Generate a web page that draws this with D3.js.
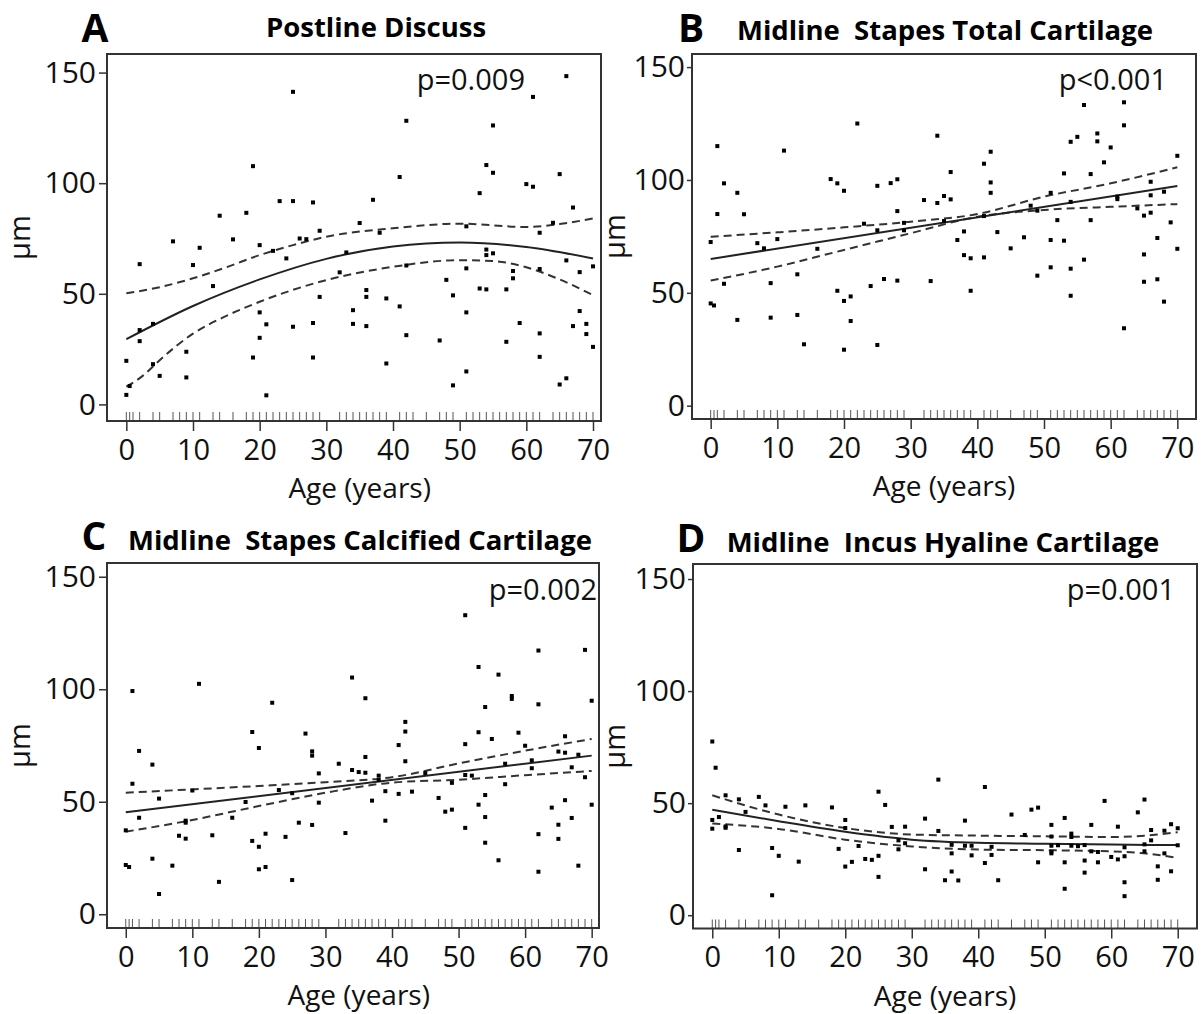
<!DOCTYPE html>
<html>
<head>
<meta charset="utf-8">
<script src="https://cdn.jsdelivr.net/npm/d3@7"></script>
<style>
  body { margin: 0; background: #fff; }
  svg { display: block; }
</style>
</head>
<body>
<div id="chart"></div>
<script>
// ---- data ----
const xTicks = [0, 10, 20, 30, 40, 50, 60, 70];
const yTicks = [0, 50, 100, 150];

// ages present in the sample (rug along the x axis)
const rugAges = [0, 0.5, 1, 2, 4, 5, 7, 8, 9, 10, 11, 13, 14, 16, 18, 19, 20, 21, 22, 23, 24, 25, 26, 27, 28, 29,
  32, 33, 34, 35, 36, 37, 38, 39, 41, 42, 43, 45, 47, 48, 49, 51, 52, 53, 54, 55, 56, 57, 58, 59, 60, 61, 62,
  64, 65, 66, 67, 68, 69, 70];

// A  Postline Discuss
const ageA = [25, 19, 23, 25, 28, 14, 18, 7, 16, 11, 20, 26, 27, 29, 22, 24, 2, 10, 13, 32, 33, 29, 20, 21, 25, 28,
  20, 19, 28, 21, 4, 2, 2, 0, 4, 9, 5, 9, 0.5, 0,
  66, 61, 42, 55, 54, 55, 41, 60, 61, 65, 53, 37, 67, 35, 38, 51, 62, 64, 54, 54, 55, 66, 70, 68, 51, 62, 42, 48,
  58, 58, 36, 36, 53, 54, 57, 49, 39, 34, 41, 51, 68, 34, 36, 42, 47, 59, 67, 69, 69, 70, 62, 57, 62, 39, 51, 49, 65, 66];
const umA = [141.3, 107.7, 91.9, 91.9, 91.3, 85.3, 86.6, 73.7, 74.6, 70.8, 72, 75, 74.7, 78.5, 69.4, 66, 63.4, 63, 53.5, 59.7, 68.7, 48.6, 41.6, 36.2, 35.1, 36.8,
  30.1, 21.2, 21.2, 4.1, 36.4, 33.6, 28.6, 19.7, 18.2, 23.8, 12.9, 12.2, 8.3, 4.3,
  148.4, 139, 128.2, 126.1, 108.2, 104.7, 102.8, 99.6, 98.4, 104.1, 95.5, 92.5, 89, 82, 77.6, 80.5, 77.6, 82.1, 70, 67.5, 68.3, 65.1, 62.4, 59.8, 61.5, 61.2, 62.8, 56.3,
  60.3, 57, 51.7, 48.6, 52.4, 52, 52, 49.3, 47.9, 42.6, 44.3, 41.6, 42.2, 36.4, 35.4, 31.3, 28.9, 36.8, 35.4, 36.4, 31.8, 26, 32.1, 28.3, 21.5, 18.5, 14.9, 8.6, 9, 11.8];
const fitAgeA = [0, 10, 20, 30, 40, 50, 60, 70];
const fitA = [29.5, 44.5, 56.5, 65.8, 71.4, 73.2, 71.2, 66];
const hiAgeA = [0, 5, 10, 15, 20, 25, 30, 40, 50, 60, 65, 70];
const hiA = [50.2, 53, 57, 62, 67.5, 72, 75.8, 79.6, 81.7, 80.2, 81.5, 84.1];
const loAgeA = [0, 2.5, 5, 10, 15, 20, 30, 40, 50, 55, 60, 65, 70];
const loA = [8, 13, 20, 32, 40, 46.4, 56.2, 62.2, 65.2, 64.8, 62, 56.5, 49.4];

// B  Midline Stapes Total Cartilage
const ageB = [1, 22, 11, 34, 2, 4, 18, 19, 20, 25, 27, 28, 36, 1, 5, 32, 34, 35, 36, 28, 23, 25, 29, 29, 35, 0, 7, 8, 10, 16,
  2, 9, 13, 26, 28, 33, 24, 19, 20, 21, 21, 0, 0.5, 4, 9, 13, 14, 20, 25,
  56, 62, 62, 54, 55, 58, 58, 60, 42, 41, 59, 70, 42, 42, 53, 57, 66, 51, 66, 68, 61, 61, 48, 49, 54, 64, 65, 66, 41, 52,
  57, 69, 38, 43, 37, 47, 51, 53, 67, 70, 38, 39, 41, 45, 65, 56, 51, 54, 49, 65, 67, 39, 54, 68, 62];
const umB = [115, 125, 113, 119.6, 98.5, 94.3, 100.4, 98.5, 95.2, 97.4, 98.6, 100.3, 103.5, 84.9, 84.8, 91.1, 89.8, 92.9, 91.4, 86.2, 80.6, 77.7, 81, 77.7, 81.8, 72.5, 72, 69.7, 73.8, 69.5,
  54, 54.3, 58.2, 56.1, 55.4, 55.2, 53, 50.9, 46.4, 48.4, 37.5, 45.3, 44.4, 38, 39, 40.2, 27.2, 24.8, 26.9,
  133.2, 134.4, 124.2, 116.9, 119.1, 120.6, 117.1, 114.4, 112.5, 107.2, 107.8, 110.7, 98.9, 94.3, 102.9, 102.6, 99.2, 94.3, 93.2, 94.8, 92.6, 91.5, 88.6, 86.4, 90.3, 87.4, 84.2, 85.5, 84, 82.2,
  82.2, 81.2, 77.2, 76.9, 73.4, 74.6, 73.4, 73.1, 74.3, 69.5, 66.7, 65.3, 65.7, 69.7, 67, 64.7, 61.3, 60.7, 57.6, 54.9, 56, 50.9, 48.7, 46.1, 34.3];
const fitAgeB = [0, 70];
const fitB = [65, 97.3];
const bandAgeB = [0, 10, 20, 30, 40, 50, 60, 70];
const hiB = [74.8, 76.8, 79, 81.5, 84.9, 92.6, 98.5, 105.6];
const loB = [55.4, 61.6, 69, 76.4, 83.7, 86.7, 88.1, 89.3];

// C  Midline Stapes Calcified Cartilage
const ageC = [1, 11, 22, 19, 27, 20, 28, 28, 2, 4, 32, 29, 1, 10, 23, 25, 5, 18, 29, 2, 9, 9, 16, 26, 28, 0, 8, 9, 13,
  19, 20, 21, 24, 33, 0, 0.5, 4, 7, 20, 21, 14, 25, 5,
  51, 62, 69, 53, 56, 34, 36, 58, 58, 62, 70, 54, 42, 42, 53, 59, 55, 41, 51, 60, 66, 65, 66, 68, 36, 42, 34, 35, 36, 38,
  38, 57, 61, 61, 67, 69, 51, 52, 45, 49, 57, 39, 41, 43, 37, 47, 53, 54, 66, 70, 64, 48, 49, 54, 67, 39, 51, 62, 65, 65,
  54, 56, 62, 68];
const umC = [99.2, 102.4, 94, 81, 80.3, 73.9, 72.4, 70.5, 72.6, 66.5, 66.9, 62.6, 58, 55, 55.2, 53.8, 51.4, 49.9, 49.6, 42.9, 41.6, 40.7, 42.9, 40.7, 39.7, 37.3, 34.9, 33.6, 35.1,
  32.6, 30, 35.8, 34.4, 36.1, 21.9, 21, 24.7, 21.6, 20, 21, 14.4, 15.2, 9,
  132.9, 117.2, 117.5, 109.9, 106.5, 105.2, 96, 97, 95.7, 93.3, 94.9, 92.1, 85.5, 81.2, 80.9, 80.7, 77.9, 75.2, 75.6, 74.9, 79.1, 72.3, 71.8, 70.9, 69.9, 68, 64.1, 63.2, 62.9, 61.6,
  59.7, 66.9, 68.4, 64.9, 65.3, 60.9, 61.9, 61.6, 62.7, 58.4, 57.8, 54.7, 53.5, 54.5, 50.5, 51.7, 48.7, 53, 50.7, 48.7, 47.4, 45.6, 46.5, 43.2, 42.8, 41.6, 38.4, 35.6, 39.8, 33.5,
  31.8, 24, 18.9, 21.6];
const fitAgeC = [0, 70];
const fitC = [45.3, 70.5];
const bandAgeC = [0, 10, 20, 30, 40, 50, 60, 70];
const hiC = [54, 55.5, 57, 58.7, 60.9, 67, 72.7, 77.9];
const loC = [36.7, 41.9, 48.1, 54, 58.5, 59.8, 61.8, 63.7];

// D  Midline Incus Hyaline Cartilage
const ageD = [0, 0.5, 2, 4, 7, 8, 5, 1, 0, 0, 2, 2, 11, 14, 18, 25, 26, 20, 20, 27, 29, 28, 28, 29, 32, 34, 34,
  4, 9, 10, 13, 19, 20, 21, 22, 23, 24, 25, 25, 32, 35, 9,
  41, 59, 65, 48, 49, 45, 38, 53, 64, 51, 57, 61, 69, 68, 70, 66, 47, 51, 54, 54, 36, 38, 39, 42, 51, 52, 54, 55, 56,
  65, 66, 70, 36, 39, 42, 51, 51, 57, 58, 58, 60, 61, 62, 62, 65, 68, 41, 49, 53, 56, 36, 37, 43, 56, 53, 62, 62, 67, 67, 69];
const umD = [77.5, 65.8, 53.5, 51.7, 52.8, 49, 46.1, 43.8, 42.5, 38.6, 39.6, 39, 48.4, 49, 48.1, 55.1, 49.2, 42.5, 38.9, 39.4, 39.5, 33.4, 29.4, 32.1, 43.1, 60.5, 37.6,
  29.1, 30, 26.5, 23.9, 29.6, 21.7, 23.8, 30.9, 25.1, 24.7, 26.5, 17.1, 20.5, 15.6, 8.9,
  57.2, 51, 51.6, 47.1, 48, 44.9, 42.2, 43.4, 45.9, 40.3, 40.3, 39.5, 40.6, 37.7, 38.8, 38, 35.8, 35.1, 36.4, 34.9, 31.4, 31, 31, 30.5, 31, 31.2, 31, 30.8, 31.3,
  31.6, 33.4, 31.2, 27.6, 26.7, 26.9, 28.3, 27.6, 28.5, 28.2, 23.6, 26, 24.9, 26.3, 30.3, 28.5, 27.6, 23.3, 23.6, 23.6, 24.4, 19.5, 15.5, 15.6, 19, 11.8, 14.7, 8.5, 21.8, 15.8, 19.6];
const fitAgeD = [0, 10, 20, 30, 40, 50, 60, 70];
const fitD = [47.1, 41.9, 37.2, 33.7, 32.3, 31.9, 31.5, 31.3];
const bandAgeD = [0, 10, 20, 30, 40, 50, 60, 65, 70];
const hiD = [53.5, 44.9, 38.9, 36, 35.5, 35.2, 34.9, 35.5, 37];
const loD = [40.9, 38.5, 33.7, 30.7, 29.3, 29, 28.5, 27.6, 25.6];

// ---- layout ----
const W = 1202, H = 1014;
const FONT = '"Open Sans", "Noto Sans", sans-serif';

const panels = [
  { letter: 'A', title: 'Postline Discuss', p: 'p=0.009',
    ages: ageA, vals: umA,
    solid: [fitAgeA, fitA], dashed: [[hiAgeA, hiA], [loAgeA, loA]],
    box: { l: 107, t: 54, r: 601, b: 421 }, xDom: [-2.9, 71.2], yDom: [-7.5, 158.4],
    letterX: 95, letterY: 42, titleX: 376, titleY: 37, pX: 525, pY: 90, ylabX: 30, yTick: 8, yPad: 3 },
  { letter: 'B', title: 'Midline  Stapes Total Cartilage', p: 'p<0.001',
    ages: ageB, vals: umB,
    solid: [fitAgeB, fitB], dashed: [[bandAgeB, hiB], [bandAgeB, loB]],
    box: { l: 692, t: 54, r: 1196, b: 419 }, xDom: [-2.8, 72.8], yDom: [-5.9, 155.8],
    letterX: 691, letterY: 42, titleX: 945, titleY: 40, pX: 1167, pY: 90, ylabX: 625, yTick: 5, yPad: 2 },
  { letter: 'C', title: 'Midline  Stapes Calcified Cartilage', p: 'p=0.002',
    ages: ageC, vals: umC,
    solid: [fitAgeC, fitC], dashed: [[bandAgeC, hiC], [bandAgeC, loC]],
    box: { l: 107, t: 563, r: 599, b: 928 }, xDom: [-2.82, 71.1], yDom: [-6.1, 156.1],
    letterX: 94, letterY: 550, titleX: 360, titleY: 550, pX: 597, pY: 600, ylabX: 30, yTick: 8, yPad: 3 },
  { letter: 'D', title: 'Midline  Incus Hyaline Cartilage', p: 'p=0.001',
    ages: ageD, vals: umD,
    solid: [fitAgeD, fitD], dashed: [[bandAgeD, hiD], [bandAgeD, loD]],
    box: { l: 693, t: 564, r: 1197, b: 928.5 }, xDom: [-2.9, 72.9], yDom: [-5.93, 156.7],
    letterX: 691, letterY: 552, titleX: 943, titleY: 552, pX: 1175, pY: 600, ylabX: 625, yTick: 5, yPad: 2 }
];

const svg = d3.select('#chart').append('svg')
  .attr('width', W).attr('height', H)
  .style('font-family', FONT);

panels.forEach(p => drawPanel(svg, p));

function drawPanel(svg, p) {
  const { l, t, r, b } = p.box;
  const x = d3.scaleLinear().domain(p.xDom).range([l, r]);
  const y = d3.scaleLinear().domain(p.yDom).range([b, t]);
  const g = svg.append('g');

  // letter + title
  g.append('text').attr('x', p.letterX).attr('y', p.letterY).attr('text-anchor', 'middle')
    .style('font-size', '39px').style('font-weight', 700).attr('fill', '#000').text(p.letter);
  g.append('text').attr('x', p.titleX).attr('y', p.titleY).attr('text-anchor', 'middle')
    .style('font-size', '27.5px').style('font-weight', 700).attr('fill', '#000')
    .attr('xml:space', 'preserve').style('white-space', 'pre').text(p.title);

  // axes
  const xa = g.append('g').attr('transform', `translate(0,${b})`)
    .call(d3.axisBottom(x).tickValues(xTicks).tickSize(10).tickPadding(8));
  const ya = g.append('g').attr('transform', `translate(${l},0)`)
    .call(d3.axisLeft(y).tickValues(yTicks).tickSize(p.yTick).tickPadding(p.yPad));
  [xa, ya].forEach(a => {
    a.select('.domain').remove();
    a.selectAll('line').attr('stroke', '#333').attr('stroke-width', 1.5);
    a.selectAll('text').style('font-size', '29px').style('font-family', FONT).attr('fill', '#111');
  });
  ya.selectAll('text').style('font-size', '30px');

  g.append('text').attr('x', (x(0) + x(70)) / 2).attr('y', b + 77).attr('text-anchor', 'middle')
    .style('font-size', '28px').attr('fill', '#111').text('Age (years)');
  g.append('text').attr('transform', `translate(${p.ylabX},${(t + b) / 2}) rotate(-90)`)
    .attr('text-anchor', 'middle').style('font-size', '29px').attr('fill', '#111').text('μm');

  // rug
  g.selectAll('.rug').data(rugAges).enter().append('line')
    .attr('x1', d => x(d)).attr('x2', d => x(d)).attr('y1', b).attr('y2', b - 9)
    .attr('stroke', '#555').attr('stroke-width', 1);

  // fitted curve + confidence band
  const line = d3.line().x(d => x(d[0])).y(d => y(d[1])).curve(d3.curveMonotoneX);
  const pairs = (xs, ys) => xs.map((v, i) => [v, ys[i]]);
  p.dashed.forEach(([xs, ys]) => {
    g.append('path').attr('d', line(pairs(xs, ys))).attr('fill', 'none')
      .attr('stroke', '#333').attr('stroke-width', 2).attr('stroke-dasharray', '8,5');
  });
  g.append('path').attr('d', line(pairs(p.solid[0], p.solid[1]))).attr('fill', 'none')
    .attr('stroke', '#222').attr('stroke-width', 2);

  // points
  g.selectAll('.pt').data(p.ages.map((a, i) => [a, p.vals[i]])).enter().append('rect')
    .attr('x', d => x(d[0]) - 2).attr('y', d => y(d[1]) - 2)
    .attr('width', 4).attr('height', 4).attr('fill', '#000');

  // box
  g.append('rect').attr('x', l).attr('y', t).attr('width', r - l).attr('height', b - t)
    .attr('fill', 'none').attr('stroke', '#333').attr('stroke-width', 2);

  g.append('text').attr('x', p.pX).attr('y', p.pY).attr('text-anchor', 'end')
    .style('font-size', '29px').attr('fill', '#111').text(p.p);
}
</script>
</body>
</html>
